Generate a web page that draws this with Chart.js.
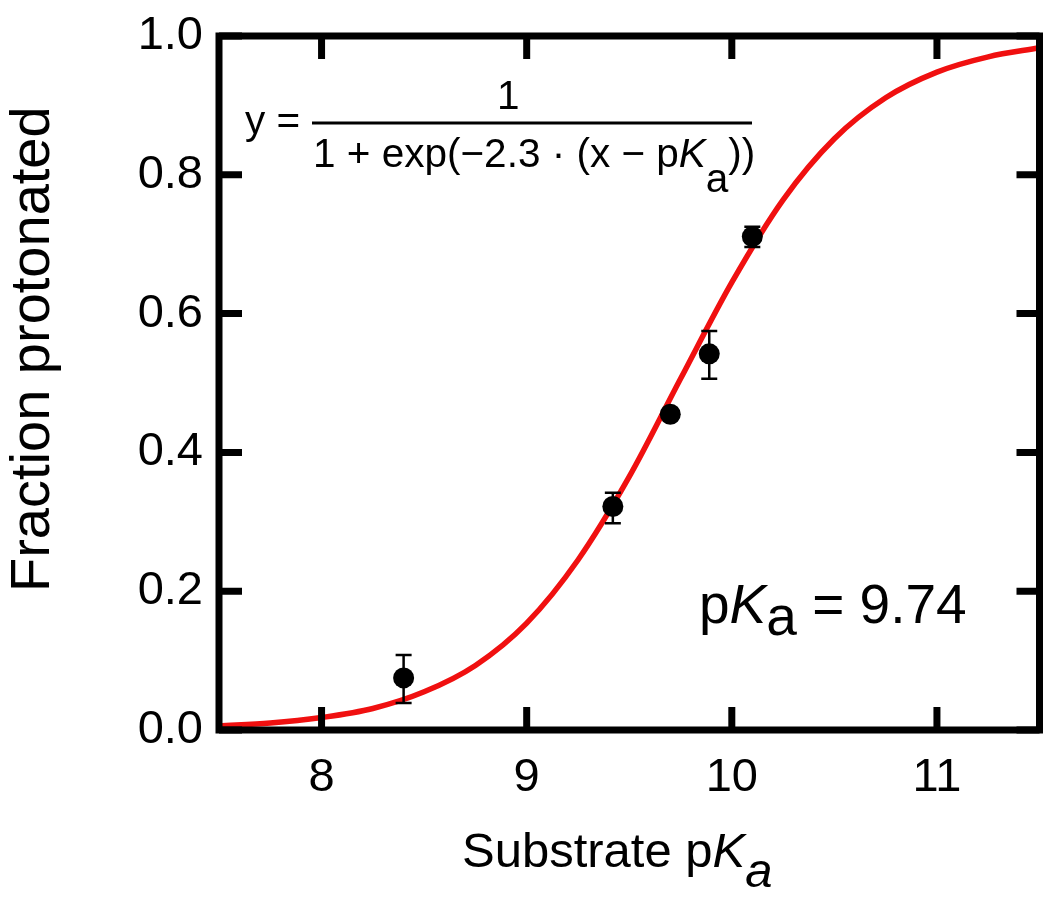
<!DOCTYPE html>
<html><head><meta charset="utf-8">
<script src="https://cdn.jsdelivr.net/npm/chart.js@4.4.1/dist/chart.umd.min.js"></script>
<style>html,body{margin:0;padding:0;background:#fff;overflow:hidden}canvas{display:block}</style>
</head><body>
<canvas id="c" width="1050" height="906"></canvas>
<script>
// ---- data ----
const pointX  = [8.40, 9.42, 9.70, 9.89, 10.10];
const pointY  = [0.075, 0.322, 0.455, 0.542, 0.711];
const errLow  = [0.039, 0.298, 0.455, 0.506, 0.696];
const errHigh = [0.108, 0.342, 0.455, 0.575, 0.725];
const curveX  = [7.5, 7.75, 8.0, 8.25, 8.5, 8.75, 9.0, 9.25, 9.5, 9.75, 10.0, 10.25, 10.5, 10.75, 11.0, 11.25, 11.5];
const curveY  = [0.006, 0.010, 0.018, 0.031, 0.055, 0.093, 0.154, 0.245, 0.365, 0.506, 0.645, 0.764, 0.852, 0.911, 0.948, 0.970, 0.983];
const xTicks  = [8, 9, 10, 11];
const yTicks  = [0.0, 0.2, 0.4, 0.6, 0.8, 1.0];
const xTitle  = ['Substrate p', 'K', 'a'];
const yTitle  = 'Fraction protonated';
const pkaLabel = ['p', 'K', 'a', ' = 9.74'];
const eqLeft = 'y =';
const eqNum = '1';
const eqDen = ['1 + exp(\u22122.3 \u00B7 (x \u2212 p', 'K', 'a', '))'];

const FONT = '"Liberation Sans", Arial, Helvetica, sans-serif';
const RED = '#f01010';

function runs(ctx, x, y, parts) {
  let cx = x;
  for (const [t, f, dy] of parts) {
    ctx.font = f;
    ctx.fillText(t, cx, y + dy);
    cx += ctx.measureText(t).width;
  }
  return cx;
}

const frame = {
  id: 'frame',
  afterDatasetsDraw(chart) {
    const ctx = chart.ctx, xs = chart.scales.x, ys = chart.scales.y;
    ctx.save();
    ctx.strokeStyle = '#000';
    ctx.lineWidth = 2.5;
    for (let i = 0; i < pointX.length; i++) {
      if (errHigh[i] - errLow[i] < 1e-6) continue;
      const px = xs.getPixelForValue(pointX[i]);
      const y1 = ys.getPixelForValue(errLow[i]);
      const y2 = ys.getPixelForValue(errHigh[i]);
      ctx.beginPath();
      ctx.moveTo(px, y1); ctx.lineTo(px, y2);
      ctx.moveTo(px - 8, y1); ctx.lineTo(px + 8, y1);
      ctx.moveTo(px - 8, y2); ctx.lineTo(px + 8, y2);
      ctx.stroke();
    }
    ctx.restore();
  },
  afterDraw(chart) {
    const ctx = chart.ctx, a = chart.chartArea, xs = chart.scales.x, ys = chart.scales.y;
    ctx.save();
    ctx.strokeStyle = '#000';
    ctx.lineWidth = 7;
    ctx.lineCap = 'butt';
    ctx.strokeRect(a.left, a.top, a.right - a.left, a.bottom - a.top);
    const TL = 23;
    ctx.beginPath();
    for (const v of xTicks) {
      const px = xs.getPixelForValue(v);
      ctx.moveTo(px, a.bottom); ctx.lineTo(px, a.bottom - TL);
      ctx.moveTo(px, a.top); ctx.lineTo(px, a.top + TL);
    }
    for (const v of yTicks) {
      const py = ys.getPixelForValue(v);
      ctx.moveTo(a.left, py); ctx.lineTo(a.left + TL, py);
      ctx.moveTo(a.right, py); ctx.lineTo(a.right - TL, py);
    }
    ctx.stroke();

    ctx.fillStyle = '#000';
    ctx.textBaseline = 'alphabetic';
    ctx.textAlign = 'left';
    // x axis title
    const xf = '49px ' + FONT, xfi = 'italic 49px ' + FONT;
    runs(ctx, 462, 867, [[xTitle[0], xf, 0], [xTitle[1], xfi, 0], [xTitle[2], xfi, 20]]);
    // y axis title
    ctx.save();
    ctx.translate(49, 592);
    ctx.rotate(-Math.PI / 2);
    ctx.font = '56px ' + FONT;
    ctx.fillText(yTitle, 0, 0);
    ctx.restore();
    // pKa label
    const pf = '55px ' + FONT, pfi = 'italic 55px ' + FONT;
    runs(ctx, 699, 623, [[pkaLabel[0], pf, 0], [pkaLabel[1], pfi, 0], [pkaLabel[2], pf, 12], [pkaLabel[3], pf, 0]]);
    // equation
    const ef = '40.5px ' + FONT, efi = 'italic 40.5px ' + FONT;
    ctx.font = ef;
    ctx.fillText(eqLeft, 245, 134);
    ctx.fillText(eqNum, 497, 109);
    runs(ctx, 313, 167, [[eqDen[0], ef, 0], [eqDen[1], efi, 0], [eqDen[2], ef, 25], [eqDen[3], ef, 0]]);
    ctx.lineWidth = 3;
    ctx.beginPath();
    ctx.moveTo(312, 123); ctx.lineTo(752, 123);
    ctx.stroke();
    ctx.restore();
  }
};

new Chart(document.getElementById('c'), {
  type: 'line',
  data: {
    datasets: [
      {
        label: 'Measured',
        data: pointX.map((x, i) => ({ x, y: pointY[i] })),
        showLine: false,
        pointRadius: 10.5,
        pointBackgroundColor: '#000',
        pointBorderColor: '#000',
        pointBorderWidth: 0
      },
      {
        label: 'Fit',
        data: curveX.map((x, i) => ({ x, y: curveY[i] })),
        borderColor: RED,
        borderWidth: 5.5,
        pointRadius: 0,
        cubicInterpolationMode: 'monotone',
        fill: false
      }
    ]
  },
  options: {
    responsive: false,
    animation: false,
    devicePixelRatio: 1,
    layout: { padding: { top: 36, right: 8, left: 0, bottom: 0 } },
    plugins: { legend: { display: false }, tooltip: { enabled: false } },
    scales: {
      x: {
        type: 'linear', min: 7.5, max: 11.5,
        afterBuildTicks: s => { s.ticks = xTicks.map(v => ({ value: v })); },
        grid: { display: false, drawTicks: false },
        border: { display: false },
        ticks: { color: '#000', font: { family: FONT, size: 47 }, padding: 20, maxRotation: 0, autoSkip: false },
        afterFit: s => { s.height = 176; s.paddingLeft = 0; s.paddingRight = 0; }
      },
      y: {
        type: 'linear', min: 0, max: 1,
        afterBuildTicks: s => { s.ticks = yTicks.map(v => ({ value: v })); },
        grid: { display: false, drawTicks: false },
        border: { display: false },
        ticks: { color: '#000', font: { family: FONT, size: 47 }, padding: 16, autoSkip: false,
                 callback: v => Number(v).toFixed(1) },
        afterFit: s => { s.width = 219; s.paddingTop = 0; s.paddingBottom = 0; }
      }
    }
  },
  plugins: [frame]
});
</script>
</body></html>
